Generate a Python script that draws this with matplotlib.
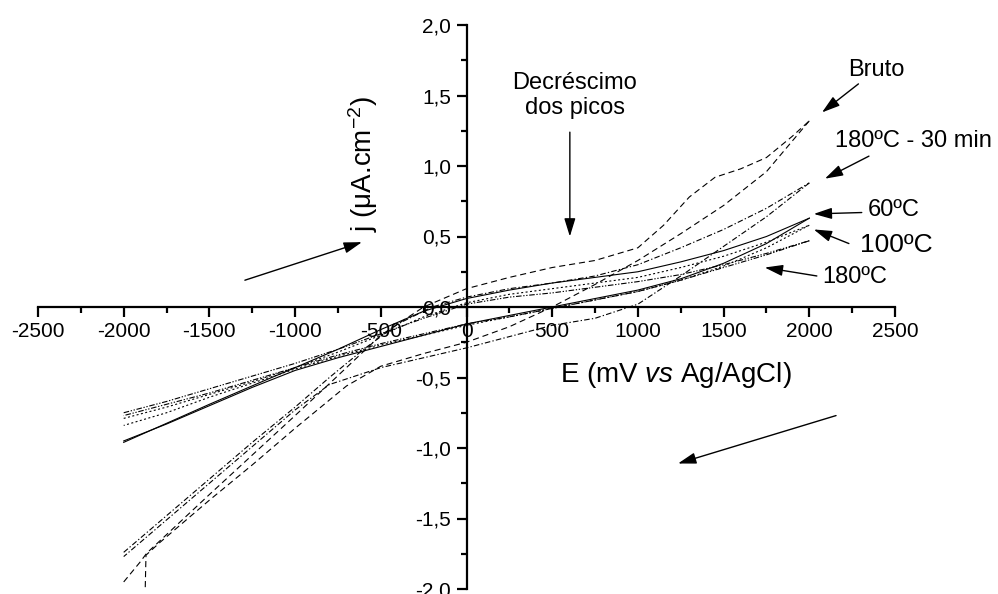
import matplotlib
matplotlib.use("Agg")
import matplotlib.pyplot as plt
from matplotlib.ticker import MultipleLocator, FixedLocator

plt.rcParams['font.family'] = ['Liberation Sans', 'DejaVu Sans']
plt.rcParams['mathtext.fontset'] = 'custom'
plt.rcParams['mathtext.rm'] = 'Liberation Sans'
plt.rcParams['mathtext.it'] = 'Liberation Sans:italic'

# ---- voltammograms: potential (mV) and current density (uA/cm2) ----
# Bruto (dashed)
bruto_up_E = [-2000, -1905, -1865, -1500, -1250, -1000, -779, -500, -250, 0, 250, 500, 750, 1000, 1150, 1300, 1450, 1600, 1750, 1900, 2000]
bruto_up_j = [-1.95, -1.81, -1.745, -1.33, -1.05, -0.77, -0.52, -0.20, 0.00, 0.13, 0.21, 0.28, 0.33, 0.42, 0.58, 0.78, 0.92, 0.98, 1.06, 1.21, 1.32]
bruto_dn_E = [2000, 1750, 1500, 1250, 1000, 750, 500, 250, 0, -250, -500, -700, -1000, -1250, -1500, -1789, -1870, -1880]
bruto_dn_j = [1.32, 0.96, 0.72, 0.52, 0.33, 0.16, 0.00, -0.14, -0.25, -0.33, -0.42, -0.56, -0.86, -1.12, -1.37, -1.67, -1.76, -2.30]

# 180ºC - 30 min (dash-dot)
t30_up_E = [-2000, -1750, -1500, -1250, -1000, -800, -600, -400, -200, 0, 250, 500, 750, 1000, 1250, 1500, 1750, 2000]
t30_up_j = [-1.74, -1.48, -1.22, -0.96, -0.71, -0.50, -0.30, -0.12, 0.00, 0.07, 0.13, 0.17, 0.22, 0.30, 0.42, 0.55, 0.70, 0.88]
t30_dn_E = [2000, 1750, 1500, 1250, 1000, 750, 500, 250, 0, -250, -500, -800, -1000, -1250, -1500, -1750, -2000]
t30_dn_j = [0.88, 0.64, 0.43, 0.22, 0.02, -0.08, -0.13, -0.21, -0.29, -0.36, -0.43, -0.55, -0.73, -0.99, -1.25, -1.51, -1.77]

# 60ºC (solid)
t60_up_E = [-2000, -1500, -1175, -1000, -750, -500, -250, 0, 250, 500, 750, 1000, 1250, 1500, 1750, 2000]
t60_up_j = [-0.96, -0.69, -0.52, -0.43, -0.30, -0.16, -0.03, 0.06, 0.12, 0.17, 0.21, 0.25, 0.32, 0.40, 0.50, 0.63]
t60_dn_E = [2000, 1750, 1500, 1250, 1000, 750, 500, 250, 0, -250, -500, -750, -1000, -1250, -1500, -1750, -2000]
t60_dn_j = [0.63, 0.45, 0.31, 0.20, 0.12, 0.06, 0.00, -0.06, -0.12, -0.20, -0.28, -0.36, -0.45, -0.57, -0.70, -0.83, -0.95]

# 100ºC (dotted)
t100_up_E = [-2000, -1750, -1500, -1250, -1000, -750, -500, -250, 0, 250, 500, 750, 1000, 1250, 1500, 1750, 2000]
t100_up_j = [-0.79, -0.71, -0.62, -0.53, -0.43, -0.32, -0.20, -0.07, 0.03, 0.09, 0.13, 0.17, 0.21, 0.28, 0.36, 0.46, 0.58]
t100_dn_E = [2000, 1750, 1500, 1250, 1000, 750, 500, 250, 0, -250, -500, -750, -1000, -1250, -1500, -1750, -2000]
t100_dn_j = [0.58, 0.42, 0.29, 0.19, 0.11, 0.05, -0.01, -0.07, -0.13, -0.20, -0.27, -0.35, -0.44, -0.54, -0.64, -0.75, -0.84]

# 180ºC (dash-dot-dot)
t180_up_E = [-2000, -1750, -1500, -1250, -1000, -750, -500, -250, 0, 250, 500, 750, 1000, 1250, 1500, 1750, 2000]
t180_up_j = [-0.75, -0.67, -0.58, -0.49, -0.40, -0.30, -0.19, -0.08, 0.02, 0.07, 0.10, 0.14, 0.18, 0.23, 0.30, 0.38, 0.47]
t180_dn_E = [2000, 1750, 1500, 1250, 1000, 750, 500, 250, 0, -250, -500, -750, -1000, -1250, -1500, -1750, -2000]
t180_dn_j = [0.47, 0.37, 0.28, 0.19, 0.11, 0.05, -0.01, -0.07, -0.12, -0.19, -0.26, -0.34, -0.43, -0.52, -0.61, -0.69, -0.77]

x_ticks = [-2500, -2000, -1500, -1000, -500, 0, 500, 1000, 1500, 2000, 2500]
y_ticks = [-2.0, -1.5, -1.0, -0.5, 0.0, 0.5, 1.0, 1.5, 2.0]
y_tick_labels = ['-2,0', '-1,5', '-1,0', '-0,5', '0,0', '0,5', '1,0', '1,5', '2,0']

fig = plt.figure(figsize=(9.98, 5.94), dpi=100)
ax = fig.add_axes([38 / 998, 5 / 594, 857 / 998, 564 / 594])
ax.set_xlim(-2500, 2500)
ax.set_ylim(-2.0, 2.0)

lw = 0.8
styles = {
    'bruto': dict(color='k', lw=lw, dashes=(5.5, 3.5)),
    't30': dict(color='k', lw=lw, dashes=(5, 2, 1.2, 2)),
    't60': dict(color='k', lw=lw, linestyle='-'),
    't100': dict(color='k', lw=lw, dashes=(1.8, 2.2)),
    't180': dict(color='k', lw=lw, dashes=(5, 1.5, 1.2, 1.5, 1.2, 1.5)),
}
ax.plot(bruto_up_E, bruto_up_j, **styles['bruto'])
ax.plot(bruto_dn_E, bruto_dn_j, **styles['bruto'])
ax.plot(t30_up_E, t30_up_j, **styles['t30'])
ax.plot(t30_dn_E, t30_dn_j, **styles['t30'])
ax.plot(t60_up_E, t60_up_j, **styles['t60'])
ax.plot(t60_dn_E, t60_dn_j, **styles['t60'])
ax.plot(t100_up_E, t100_up_j, **styles['t100'])
ax.plot(t100_dn_E, t100_dn_j, **styles['t100'])
ax.plot(t180_up_E, t180_up_j, **styles['t180'])
ax.plot(t180_dn_E, t180_dn_j, **styles['t180'])

# axes crossing at the origin
for side in ('top', 'right'):
    ax.spines[side].set_visible(False)
ax.spines['left'].set_position(('data', 0))
ax.spines['bottom'].set_position(('data', 0))
for side in ('left', 'bottom'):
    ax.spines[side].set_linewidth(1.6)

ax.xaxis.set_major_locator(FixedLocator(x_ticks))
ax.set_xticklabels([str(v) for v in x_ticks])
ax.xaxis.set_minor_locator(MultipleLocator(250))
ax.yaxis.set_major_locator(FixedLocator(y_ticks))
ax.set_yticklabels(y_tick_labels)
ax.yaxis.set_minor_locator(MultipleLocator(0.25))
ax.tick_params(which='major', direction='out', length=7, width=1.6, labelsize=15, pad=4)
ax.tick_params(which='minor', direction='out', length=4.5, width=1.6)

# axis titles
ax.text(545, -0.48, 'E (mV $\\mathit{vs}$ Ag/AgCl)', fontsize=20, ha='left', va='center')
ax.text(-604, 1.01, 'j (μA.cm$^{-2}$)', fontsize=20, rotation=90, ha='center', va='center')

arrow = dict(arrowstyle='-|>,head_length=0.55,head_width=0.17', color='k', lw=1.0,
             mutation_scale=20, shrinkA=0, shrinkB=0)

# scan direction arrows
ax.annotate('', xy=(-610, 0.46), xytext=(-1293, 0.19), arrowprops=arrow)
ax.annotate('', xy=(1234, -1.11), xytext=(2156, -0.77), arrowprops=arrow)

# peak decrease
ax.text(632, 1.50, 'Decréscimo\ndos picos', fontsize=17, ha='center', va='center', linespacing=1.15)
ax.annotate('', xy=(603, 0.50), xytext=(603, 1.24), arrowprops=arrow)

# sample labels
ax.annotate('Bruto', xy=(2074, 1.38), xytext=(2225, 1.68), fontsize=17,
            ha='left', va='center', arrowprops=arrow, annotation_clip=False)
ax.text(2149, 1.18, '180ºC - 30 min', fontsize=17, ha='left', va='center', clip_on=False)
ax.annotate('', xy=(2091, 0.91), xytext=(2348, 1.07), arrowprops=arrow, annotation_clip=False)
ax.text(2341, 0.69, '60ºC', fontsize=17, ha='left', va='center', clip_on=False)
ax.annotate('', xy=(2026, 0.66), xytext=(2306, 0.67), arrowprops=arrow, annotation_clip=False)
ax.text(2295, 0.44, '100ºC', fontsize=19, ha='left', va='center', clip_on=False)
ax.annotate('', xy=(2026, 0.55), xytext=(2231, 0.45), arrowprops=arrow, annotation_clip=False)
ax.text(2073, 0.21, '180ºC', fontsize=17, ha='left', va='center', clip_on=False)
ax.annotate('', xy=(1740, 0.28), xytext=(2044, 0.22), arrowprops=arrow, annotation_clip=False)

fig.savefig('out.png', dpi=100)
